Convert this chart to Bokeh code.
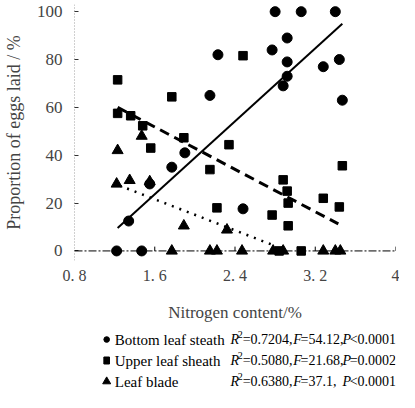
from bokeh.plotting import figure
from bokeh.layouts import column
from bokeh.models import FixedTicker, Range1d, Span
from bokeh.core.properties import value
from bokeh.embed import file_html
from bokeh.resources import INLINE

# ---- data ----
bottom_x = [2.80, 3.06, 3.40, 2.92, 2.77, 2.23, 2.92, 3.44, 3.28, 2.92, 2.88, 2.15, 3.47, 1.90, 1.77, 1.55, 1.34, 2.48, 1.22, 1.47]
bottom_y = [100, 100, 100, 89, 84, 82, 79, 80, 77, 73, 69, 65, 63, 41, 35, 28, 12.5, 17.6, 0, 0]

upper_x = [1.23, 1.77, 1.23, 1.36, 1.48, 1.89, 1.56, 2.34, 2.48, 2.15, 2.22, 3.47, 2.88, 2.92, 2.93, 3.28, 3.44, 2.77, 2.93, 2.84, 3.06]
upper_y = [71.5, 64.4, 57.5, 56.5, 52.3, 47.3, 43, 44.4, 81.6, 34, 18, 35.6, 29.7, 25, 20, 22, 18.4, 15, 10.5, 0, 0]

blade_x = [1.47, 1.23, 1.22, 1.35, 1.55, 1.89, 2.32, 1.77, 2.15, 2.22, 2.47, 2.78, 2.88, 3.28, 3.40, 3.45]
blade_y = [48, 42, 28, 29.5, 29, 10.5, 8.8, 0, 0, 0, 0, 0, 0, 0, 0, 0]

bottom_fit_x = [1.23, 3.47]
bottom_fit_y = [9.6, 95.0]
upper_fit_x = [1.23, 3.43]
upper_fit_y = [60.0, 11.3]
blade_fit_x = [1.25, 2.80]
blade_fit_y = [27.3, 2.1]

x_ticks = [0.8, 1.6, 2.4, 3.2, 4.0]
x_tick_labels = ["0. 8", "1. 6", "2. 4", "3. 2", "4"]
y_ticks = [0, 20, 40, 60, 80, 100]

series_names = ["Bottom leaf steath", "Upper leaf sheath", "Leaf blade"]
r2_vals = ["0.7204", "0.5080", "0.6380"]
f_vals = ["54.12", "21.68", "37.1"]
p_vals = ["<0.0001", "=0.0002", "<0.0001"]

SERIF = "Liberation Serif"

# ---- main figure ----
W = 399
H1 = 325
ML, MR, MT, MB = 69, 4, 4, 65
p = figure(width=W, height=H1, x_range=Range1d(0.8, 4.0), y_range=Range1d(-4, 103),
           output_backend="svg", toolbar_location=None,
           min_border_left=ML, min_border_right=MR, min_border_top=MT, min_border_bottom=MB)
p.outline_line_color = None
p.grid.visible = False

xa = p.xaxis[0]
xa.ticker = FixedTicker(ticks=x_ticks)
xa.major_label_overrides = {(t if t != 4.0 else 4): s for t, s in zip(x_ticks, x_tick_labels)}
xa.axis_line_color = None
xa.major_tick_line_color = None
xa.minor_tick_line_color = None
xa.major_tick_in = 0
xa.major_tick_out = 0
xa.major_label_text_font = SERIF
xa.major_label_text_font_size = "16px"
xa.major_label_standoff = 6
xa.axis_label = "Nitrogen content/%"
xa.axis_label_text_font = SERIF
xa.axis_label_text_font_style = "normal"
xa.axis_label_text_font_size = "17px"
xa.axis_label_standoff = 16

ya = p.yaxis[0]
ya.ticker = FixedTicker(ticks=y_ticks)
ya.axis_line_color = None
ya.major_tick_in = 4
ya.major_tick_out = 0
ya.major_tick_line_color = "#333333"
ya.minor_tick_line_color = None
ya.major_label_text_font = SERIF
ya.major_label_text_font_size = "17px"
ya.major_label_standoff = 12
ya.axis_label = "Proportion of eggs laid / %"
ya.axis_label_text_font = SERIF
ya.axis_label_text_font_style = "normal"
ya.axis_label_text_font_size = "18px"
ya.axis_label_standoff = 10

# dotted y axis line and dash-dot baseline at y = 0 with small upward ticks
p.add_layout(Span(location=0.8, dimension="height", line_color="#444444", line_width=1, line_dash="1 2"))
p.add_layout(Span(location=0, dimension="width", line_color="black", line_width=1, line_dash="8 2 2 2"))
p.segment(x0=x_ticks[1:], y0=[0] * 4, x1=x_ticks[1:], y1=[1.8] * 4, line_color="black", line_width=1)

# fit lines
p.line(bottom_fit_x, bottom_fit_y, line_color="black", line_width=2)
p.line(upper_fit_x, upper_fit_y, line_color="black", line_width=3, line_dash="10 6")
p.line(blade_fit_x, blade_fit_y, line_color="black", line_width=2.5, line_dash="2 6")

# points
p.scatter(bottom_x, bottom_y, marker="circle", size=10, color="black")
p.scatter(upper_x, upper_y, marker="square", size=8.5, color="black")
p.scatter(blade_x, blade_y, marker="triangle", size=11, color="black")

# ---- legend figure (pixel coordinates, y downward) ----
H2 = 67
lg = figure(width=W, height=H2, x_range=Range1d(0, W), y_range=Range1d(H2, 0),
            output_backend="svg", toolbar_location=None,
            x_axis_type=None, y_axis_type=None,
            min_border_left=0, min_border_right=0, min_border_top=0, min_border_bottom=0)
lg.outline_line_color = None
lg.grid.visible = False

rows_y = [14, 35, 56]
lg.circle(x=[40], y=[rows_y[0]], radius=3.5, color="black")
lg.rect(x=[40], y=[rows_y[1]], width=7, height=7, color="black")
lg.scatter(x=[40], y=[rows_y[2]], marker="triangle", size=8, color="black")

for i in range(3):
    yy = rows_y[i]
    lg.text(x=[50], y=[yy], text=[series_names[i]], text_font=value(SERIF),
            text_font_size="15px", text_baseline="middle")
    lg.text(x=[194], y=[yy], text=["R"], text_font=value(SERIF), text_font_style="italic",
            text_font_size="14px", text_baseline="middle")
    lg.text(x=[203], y=[yy - 5], text=["2"], text_font=value(SERIF),
            text_font_size="10px", text_baseline="middle")
    lg.text(x=[209], y=[yy], text=["=" + r2_vals[i] + ","], text_font=value(SERIF),
            text_font_size="14px", text_baseline="middle")
    lg.text(x=[272], y=[yy], text=["F"], text_font=value(SERIF), text_font_style="italic",
            text_font_size="14px", text_baseline="middle")
    lg.text(x=[281], y=[yy], text=["=" + f_vals[i] + ","], text_font=value(SERIF),
            text_font_size="14px", text_baseline="middle")
    lg.text(x=[333], y=[yy], text=["P"], text_font=value(SERIF), text_font_style="italic",
            text_font_size="14px", text_baseline="middle")
    lg.text(x=[342], y=[yy], text=[p_vals[i]], text_font=value(SERIF),
            text_font_size="14px", text_baseline="middle")

open("out.html", "w").write(file_html(column(p, lg, spacing=0), INLINE))
